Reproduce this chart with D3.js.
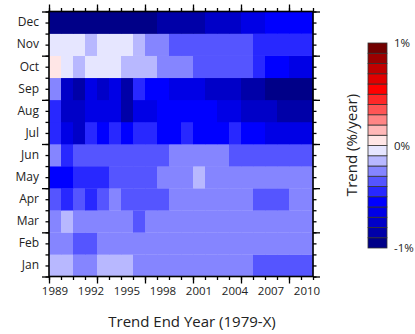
<!DOCTYPE html>
<html>
<head>
<meta charset="utf-8">
<script src="https://cdn.jsdelivr.net/npm/d3@7"></script>
<style>
  body { margin: 0; background: #fff; }
  text { font-family: "Open Sans", "Noto Sans", sans-serif; fill: #222; }
</style>
</head>
<body>
<div id="chart"></div>
<script>
// svg container
var svgWidth = 415;
var svgHeight = 334;

// plot area
var margin = { top: 11.5, left: 49 };
var chartWidth = 264;
var chartHeight = 265;

// data: trend (%/year) for trend end year 1989..2010, one array per month
var years = d3.range(1989, 2011);
var yearLabels = [1989, 1992, 1995, 1998, 2001, 2004, 2007, 2010];
var months = ["Jan", "Feb", "Mar", "Apr", "May", "Jun", "Jul", "Aug", "Sep", "Oct", "Nov", "Dec"];

var trendJan = [-0.15,-0.15,-0.25,-0.25,-0.15,-0.15,-0.15,-0.25,-0.25,-0.25,-0.25,-0.25,-0.25,-0.25,-0.25,-0.25,-0.25,-0.35,-0.35,-0.35,-0.35,-0.35];
var trendFeb = [-0.25,-0.25,-0.35,-0.35,-0.25,-0.25,-0.25,-0.25,-0.25,-0.25,-0.25,-0.25,-0.25,-0.25,-0.25,-0.25,-0.25,-0.25,-0.25,-0.25,-0.25,-0.25];
var trendMar = [-0.25,-0.15,-0.25,-0.25,-0.25,-0.25,-0.25,-0.35,-0.25,-0.25,-0.25,-0.25,-0.25,-0.25,-0.25,-0.25,-0.25,-0.25,-0.25,-0.25,-0.25,-0.25];
var trendApr = [-0.35,-0.45,-0.35,-0.45,-0.35,-0.25,-0.35,-0.35,-0.35,-0.35,-0.25,-0.25,-0.25,-0.25,-0.25,-0.25,-0.25,-0.35,-0.35,-0.35,-0.25,-0.25];
var trendMay = [-0.55,-0.55,-0.45,-0.45,-0.45,-0.35,-0.35,-0.35,-0.35,-0.25,-0.25,-0.25,-0.15,-0.25,-0.25,-0.25,-0.25,-0.25,-0.25,-0.25,-0.25,-0.25];
var trendJun = [-0.25,-0.45,-0.35,-0.35,-0.35,-0.35,-0.35,-0.35,-0.35,-0.35,-0.25,-0.25,-0.25,-0.25,-0.25,-0.35,-0.35,-0.35,-0.35,-0.35,-0.35,-0.35];
var trendJul = [-0.45,-0.65,-0.75,-0.45,-0.55,-0.45,-0.55,-0.45,-0.45,-0.55,-0.55,-0.45,-0.55,-0.55,-0.55,-0.45,-0.55,-0.55,-0.65,-0.65,-0.65,-0.65];
var trendAug = [-0.45,-0.75,-0.75,-0.65,-0.65,-0.65,-0.85,-0.65,-0.65,-0.55,-0.55,-0.55,-0.55,-0.55,-0.65,-0.65,-0.75,-0.75,-0.75,-0.85,-0.85,-0.85];
var trendSep = [-0.25,-0.75,-0.85,-0.65,-0.75,-0.65,-0.85,-0.45,-0.55,-0.55,-0.65,-0.65,-0.65,-0.75,-0.75,-0.75,-0.85,-0.85,-0.95,-0.95,-0.95,-0.95];
var trendOct = [0.05,-0.05,-0.15,-0.05,-0.05,-0.05,-0.15,-0.15,-0.15,-0.25,-0.25,-0.25,-0.35,-0.35,-0.35,-0.35,-0.35,-0.45,-0.55,-0.55,-0.65,-0.65];
var trendNov = [-0.05,-0.05,-0.05,-0.15,-0.05,-0.05,-0.05,-0.15,-0.25,-0.25,-0.35,-0.35,-0.35,-0.35,-0.35,-0.35,-0.35,-0.45,-0.45,-0.45,-0.45,-0.45];
var trendDec = [-0.95,-0.95,-0.95,-0.95,-0.95,-0.95,-0.95,-0.95,-0.95,-0.85,-0.85,-0.85,-0.85,-0.75,-0.75,-0.75,-0.65,-0.65,-0.55,-0.55,-0.55,-0.55];

var trends = [trendJan, trendFeb, trendMar, trendApr, trendMay, trendJun,
              trendJul, trendAug, trendSep, trendOct, trendNov, trendDec];

// 20-step blue-white-red palette, 0.1 %/year per step
var palette = ["#000088", "#0000a8", "#0000c8", "#0000e6", "#0000ff",
               "#2828ff", "#5555ff", "#8585ff", "#b8b8ff", "#e6e6ff",
               "#ffe6e6", "#ffb8b8", "#ff8585", "#ff5555", "#ff2828",
               "#ff0000", "#e00000", "#bf0000", "#9a0000", "#720000"];
var bounds = d3.range(-9, 10).map(d => d / 10);

// flatten cells
var cells = [];
trends.forEach(function(row, m) {
  row.forEach(function(v, i) {
    cells.push({ month: months[m], year: years[i], value: v });
  });
});

var svg = d3.select("#chart").append("svg")
  .attr("width", svgWidth)
  .attr("height", svgHeight);

var chartGroup = svg.append("g")
  .attr("transform", `translate(${margin.left}, ${margin.top})`);

// scales
var xScale = d3.scaleBand().domain(years).range([0, chartWidth]);
var yScale = d3.scaleBand().domain(months.slice().reverse()).range([0, chartHeight]);
var colorScale = d3.scaleThreshold().domain(bounds).range(palette);

// tick position scales (edges of cells)
var xEdge = d3.scaleLinear().domain([0, years.length]).range([0, chartWidth]);
var yEdge = d3.scaleLinear().domain([0, months.length]).range([chartHeight, 0]);

chartGroup.selectAll(".cell")
  .data(cells)
  .enter()
  .append("rect")
  .attr("class", "cell")
  .attr("x", d => xScale(d.year))
  .attr("y", d => yScale(d.month))
  .attr("width", xScale.bandwidth() + 0.3)
  .attr("height", yScale.bandwidth() + 0.3)
  .attr("fill", d => colorScale(d.value));

// ticks: minor at each column / half row, major every 4 columns / 2 rows
function tickAxis(axisFn, scale, values, size, transform) {
  chartGroup.append("g")
    .attr("transform", transform)
    .call(axisFn(scale).tickValues(values).tickSize(size).tickFormat(""))
    .call(g => g.select(".domain").remove())
    .call(g => g.selectAll("line").attr("stroke", "#000").attr("stroke-width", 1.3));
}
var xMinor = d3.range(0, years.length + 1);
var xMajor = xMinor.filter(d => d % 4 === 0);
var yMinor = d3.range(0, months.length + 0.5, 0.5);
var yMajor = yMinor.filter(d => d % 2 === 0);

tickAxis(d3.axisBottom, xEdge, xMinor, 3.5, `translate(0, ${chartHeight})`);
tickAxis(d3.axisBottom, xEdge, xMajor, 7, `translate(0, ${chartHeight})`);
tickAxis(d3.axisTop, xEdge, xMinor, 3.5, "translate(0, 0)");
tickAxis(d3.axisTop, xEdge, xMajor, 7, "translate(0, 0)");
tickAxis(d3.axisLeft, yEdge, yMinor, 3.5, "translate(0, 0)");
tickAxis(d3.axisLeft, yEdge, yMajor, 7, "translate(0, 0)");
tickAxis(d3.axisRight, yEdge, yMinor, 3.5, `translate(${chartWidth}, 0)`);
tickAxis(d3.axisRight, yEdge, yMajor, 7, `translate(${chartWidth}, 0)`);

// frame
chartGroup.append("rect")
  .attr("width", chartWidth)
  .attr("height", chartHeight)
  .attr("fill", "none")
  .attr("stroke", "#000")
  .attr("stroke-width", 1.6);

// labels
chartGroup.append("g")
  .attr("transform", `translate(0, ${chartHeight})`)
  .call(d3.axisBottom(xScale).tickValues(yearLabels).tickSize(0).tickPadding(10))
  .call(g => g.select(".domain").remove())
  .call(g => g.selectAll("text").attr("font-size", "11.5px").attr("fill", "#222")
    .style("font-family", "'Open Sans', sans-serif"));

chartGroup.append("g")
  .call(d3.axisLeft(yScale).tickSize(0).tickPadding(10))
  .call(g => g.select(".domain").remove())
  .call(g => g.selectAll("text").attr("font-size", "12px").attr("fill", "#222")
    .style("font-family", "'Open Sans', sans-serif"));

svg.append("text")
  .attr("x", 192)
  .attr("y", 327)
  .attr("text-anchor", "middle")
  .attr("font-size", "15px")
  .text("Trend End Year (1979-X)");

// colour bar
var barX = 368, barW = 19;
var barScale = d3.scaleLinear().domain([-1, 1]).range([248, 43]);
var barSteps = d3.range(20).map(i => ({ lo: -1 + i / 10, hi: -1 + (i + 1) / 10, color: palette[i] }));

svg.append("g").selectAll("rect")
  .data(barSteps)
  .enter()
  .append("rect")
  .attr("x", barX)
  .attr("y", d => barScale(d.hi))
  .attr("width", barW)
  .attr("height", d => barScale(d.lo) - barScale(d.hi))
  .attr("fill", d => d.color)
  .attr("stroke", "#333")
  .attr("stroke-width", 0.8);

svg.append("g").selectAll("text")
  .data([1, 0, -1])
  .enter()
  .append("text")
  .attr("x", 394)
  .attr("y", d => barScale(d))
  .attr("dy", "0.35em")
  .attr("font-size", "11.5px")
  .text(d => d + "%");

svg.append("text")
  .attr("transform", "translate(357, 145) rotate(-90)")
  .attr("text-anchor", "middle")
  .attr("font-size", "15px")
  .text("Trend (%/year)");
</script>
</body>
</html>
